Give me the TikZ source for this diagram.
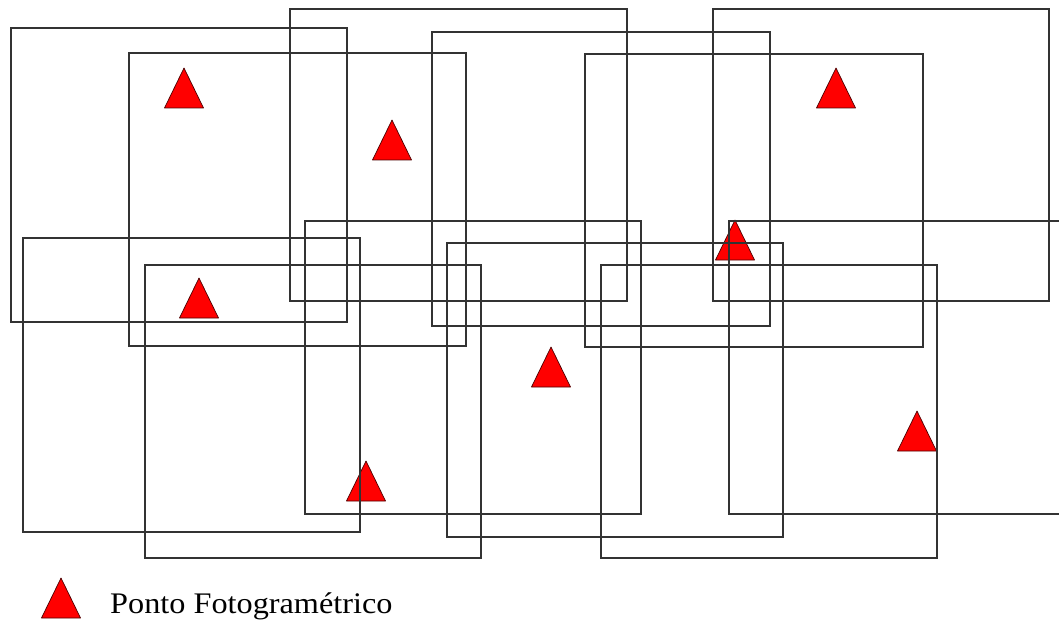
\documentclass[tikz,border=0pt]{standalone}
\usepackage{fontspec}
\setmainfont{Liberation Serif}
\usetikzlibrary{positioning}
\tikzstyle{foto}=[draw=black!80,line width=1.2pt]
\tikzset{ponto/.pic={
  \filldraw[fill=red,draw=black!70!red,line width=0.6pt,line join=round]
    (-19.5,0) -- (0,-40) -- (19.5,0) -- cycle;
}}

\begin{document}
\begin{tikzpicture}[x=0.03cm,y=-0.03cm]
  \useasboundingbox (0,0) rectangle (1059,621);
  \clip (0,0) rectangle (1059,621);
  % pontos fotogrametricos (base das marcas)
  \coordinate (p1) at (184,108);
  \coordinate (p2) at (392,160);
  \coordinate (p3) at (199,318);
  \coordinate (p4) at (366,501);
  \coordinate (p5) at (551,387);
  \coordinate (p6) at (836,108);
  \coordinate (p7) at (735,260);
  \coordinate (p8) at (917,451);
  \foreach \p in {p1,p2,p3,p4,p5,p6,p7,p8}
    \pic at (\p) {ponto};
  % fotos, faixa de cima e faixa de baixo
  \foreach \xa/\ya/\xb/\yb in {11/28/347/322, 129/53/466/346, 290/9/627/301,
      432/32/770/326, 585/54/923/347, 713/9/1049/301}
    \draw[foto] (\xa,\ya) rectangle (\xb,\yb);
  \foreach \xa/\ya/\xb/\yb in {23/238/360/532, 145/265/481/558, 305/221/641/514,
      447/243/783/537, 601/265/937/558, 729/221/1066/514}
    \draw[foto] (\xa,\ya) rectangle (\xb,\yb);
  % legenda
  \coordinate (leg) at (61,618);
  \pic at (leg) {ponto};
  \node[anchor=base west,inner sep=0pt,font=\fontsize{25.5}{30}\selectfont]
    (legenda) at (110,613) {\scalebox{1.08}[1]{Ponto Fotogramétrico}};
\end{tikzpicture}
\end{document}
